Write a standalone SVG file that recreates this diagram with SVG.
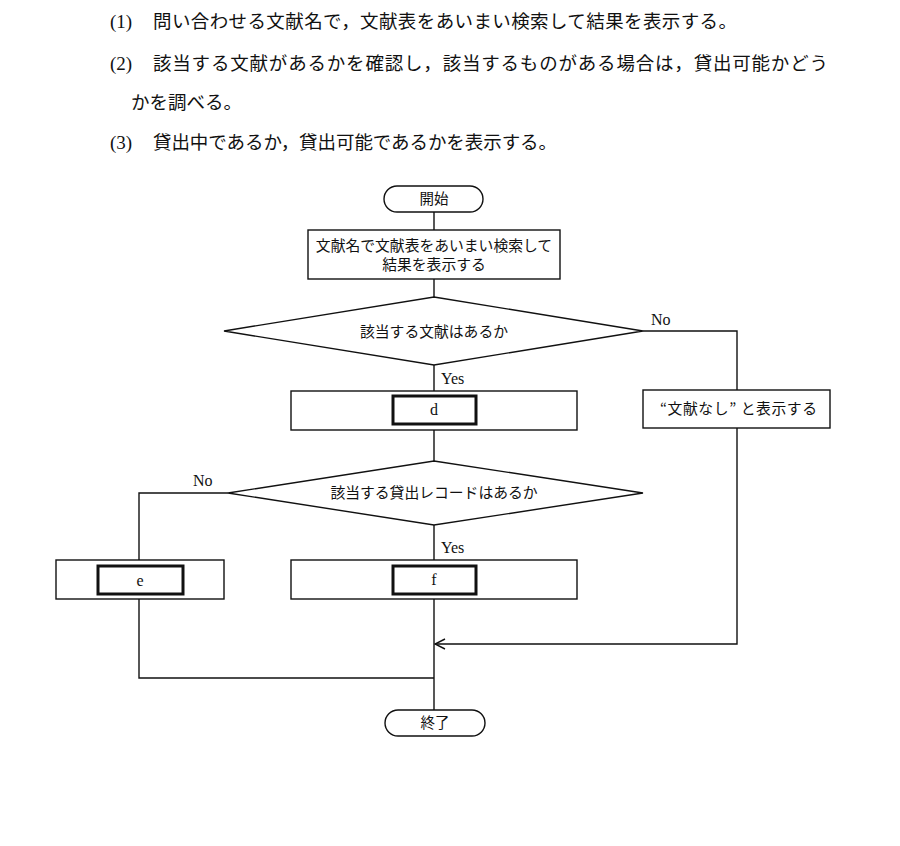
<svg xmlns="http://www.w3.org/2000/svg" width="900" height="846" viewBox="0 0 900 846">
<style>
.jp{font-family:"Noto Sans CJK JP","Noto Sans",sans-serif;fill:#111}
.lt{font-family:"Liberation Serif",serif;fill:#111}
.s{fill:#fff;stroke:#111;stroke-width:1.4}
.thick{fill:#fff;stroke:#111;stroke-width:3}
.ln{fill:none;stroke:#111;stroke-width:1.4}
</style>
<defs>
<marker id="arr" markerWidth="12" markerHeight="12" refX="11" refY="6" orient="auto" markerUnits="userSpaceOnUse">
<path d="M1,1 L11,6 L1,11" fill="none" stroke="#111" stroke-width="1.4"/>
</marker>
</defs>
<rect width="900" height="846" fill="#fff"/>
<g id="description">
<text class="lt" x="110" y="28" font-size="19">(1)</text>
<text class="jp" x="153" y="28" font-size="18.5" textLength="584" lengthAdjust="spacing">問い合わせる文献名で，文献表をあいまい検索して結果を表示する。</text>
<text class="lt" x="110" y="70" font-size="19">(2)</text>
<text class="jp" x="153" y="70" font-size="18.5" textLength="675" lengthAdjust="spacing">該当する文献があるかを確認し，該当するものがある場合は，貸出可能かどう</text>
<text class="jp" x="131" y="109" font-size="18.5">かを調べる。</text>
<text class="lt" x="110" y="149" font-size="19">(3)</text>
<text class="jp" x="153" y="149" font-size="18.5" textLength="404" lengthAdjust="spacing">貸出中であるか，貸出可能であるかを表示する。</text>
</g>
<g id="connectors">
<line class="ln" x1="434" y1="212" x2="434" y2="230"/>
<line class="ln" x1="434" y1="279" x2="434" y2="297"/>
<line class="ln" x1="434" y1="365" x2="434" y2="391"/>
<line class="ln" x1="434" y1="430" x2="434" y2="461"/>
<line class="ln" x1="434" y1="525" x2="434" y2="560"/>
<line class="ln" x1="434" y1="599" x2="434" y2="710"/>
<polyline class="ln" points="643,331 737,331 737,390"/>
<polyline class="ln" points="737,428 737,644 435,644" marker-end="url(#arr)"/>
<polyline class="ln" points="228,493 139,493 139,560"/>
<polyline class="ln" points="139,599 139,678 434,678"/>
<text class="lt" x="651" y="325" font-size="16">No</text>
<text class="lt" x="441" y="384" font-size="16">Yes</text>
<text class="lt" x="193" y="486" font-size="16">No</text>
<text class="lt" x="441" y="553" font-size="16">Yes</text>
</g>
<g id="start">
<rect class="s" x="384" y="186" width="99" height="26" rx="13"/>
<text class="jp" x="434" y="204" font-size="14.5" text-anchor="middle">開始</text>
</g>
<g id="search">
<rect class="s" x="308" y="230" width="252" height="49"/>
<text class="jp" x="434" y="251" font-size="14.8" text-anchor="middle">文献名で文献表をあいまい検索して</text>
<text class="jp" x="434" y="270" font-size="14.8" text-anchor="middle">結果を表示する</text>
</g>
<g id="decision1">
<polygon class="s" points="434,297 643,331 434,365 224,331"/>
<text class="jp" x="434" y="337" font-size="14.8" text-anchor="middle">該当する文献はあるか</text>
</g>
<g id="box-d">
<rect class="s" x="291" y="391" width="286" height="39"/>
<rect class="thick" x="393" y="396" width="83" height="28"/>
<text class="lt" x="434" y="415" font-size="16" text-anchor="middle">d</text>
</g>
<g id="nodoc">
<rect class="s" x="643" y="390" width="187" height="38"/>
<text class="jp" x="660" y="414" font-size="14.8" textLength="157" lengthAdjust="spacing">“文献なし” と表示する</text>
</g>
<g id="decision2">
<polygon class="s" points="434,461 643,493 434,525 228,493"/>
<text class="jp" x="434" y="498" font-size="14.8" text-anchor="middle">該当する貸出レコードはあるか</text>
</g>
<g id="box-e">
<rect class="s" x="56" y="560" width="168" height="39"/>
<rect class="thick" x="98" y="566" width="85" height="28"/>
<text class="lt" x="140" y="586" font-size="16" text-anchor="middle">e</text>
</g>
<g id="box-f">
<rect class="s" x="291" y="560" width="286" height="39"/>
<rect class="thick" x="393" y="566" width="83" height="28"/>
<text class="lt" x="434" y="585" font-size="16" text-anchor="middle">f</text>
</g>
<g id="end">
<rect class="s" x="385" y="710" width="100" height="26" rx="13"/>
<text class="jp" x="435" y="728" font-size="14.5" text-anchor="middle">終了</text>
</g>
</svg>
